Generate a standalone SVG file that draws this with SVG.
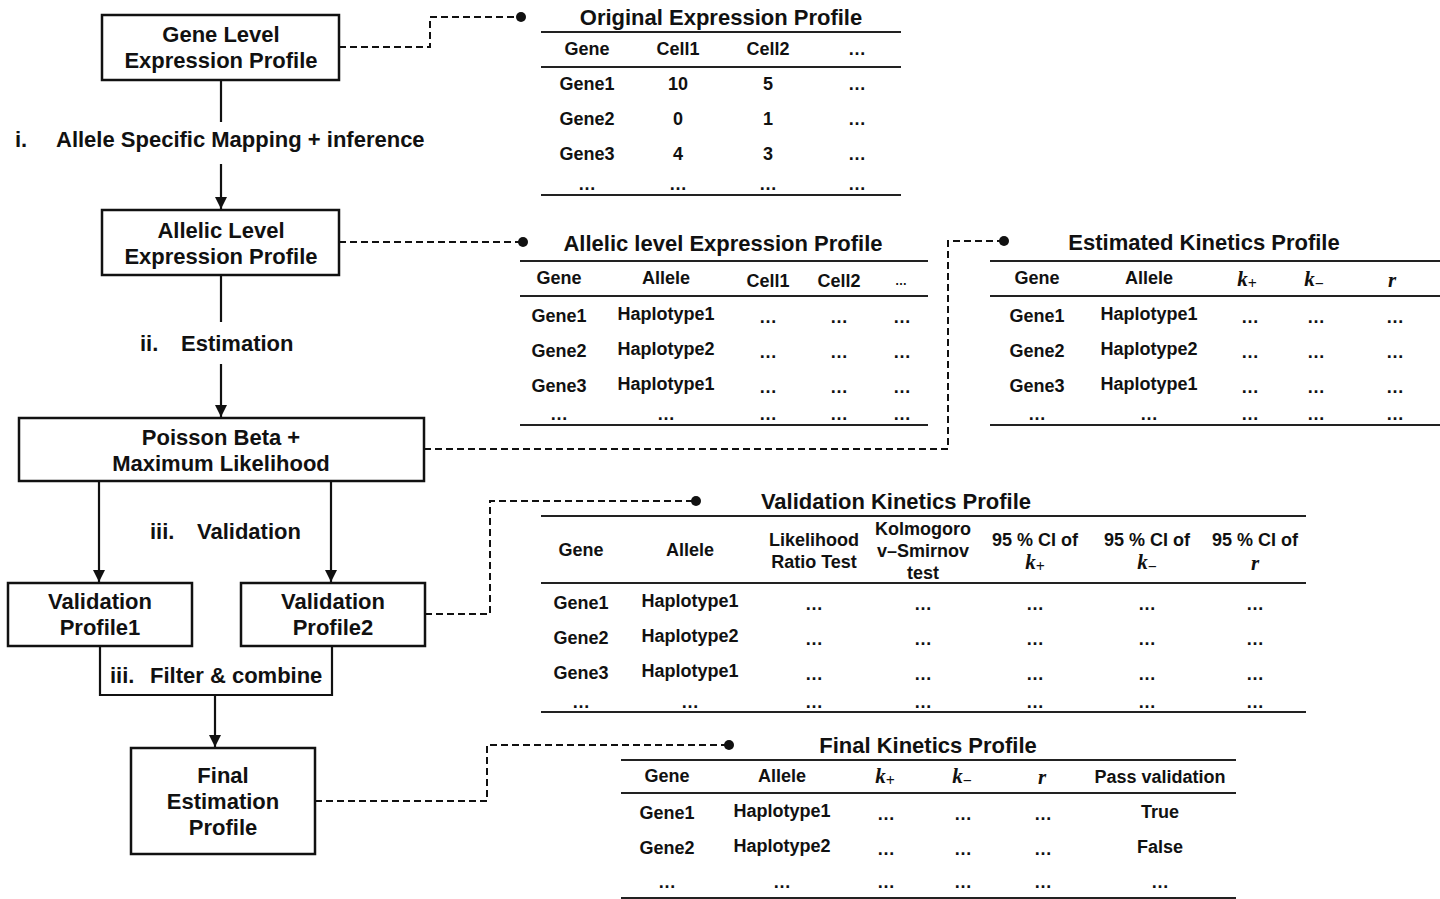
<svg xmlns="http://www.w3.org/2000/svg" width="1440" height="899" viewBox="0 0 1440 899">
<style>
.box{fill:#fff;stroke:#111;stroke-width:2.5}
.t{font-family:"Liberation Sans",Arial,sans-serif;font-weight:bold;fill:#111;text-anchor:middle;dominant-baseline:central}
.l{text-anchor:start}
.fl{font-size:22px}
.tt{font-size:22px}
.c{font-size:18px}
.m{font-family:"Liberation Serif","DejaVu Serif",serif;font-style:italic;font-weight:bold;font-size:21px}
.sb{font-size:16px;font-style:normal}
.rule{stroke:#222;stroke-width:2.2}
.dash{fill:none;stroke:#111;stroke-width:2;stroke-dasharray:7 4}
.arr{fill:none;stroke:#111;stroke-width:2.2}
</style>
<defs>
<marker id="dn" markerWidth="12" markerHeight="12" refX="6" refY="12" orient="0" markerUnits="userSpaceOnUse" viewBox="0 0 12 12">
<path d="M0,0 L12,0 L6,12 Z" fill="#111"/>
</marker>
</defs>
<rect width="1440" height="899" fill="#fff"/>

<g id="connectors">
<line class="arr" x1="221" y1="80" x2="221" y2="122"/>
<line class="arr" x1="221" y1="164" x2="221" y2="209" marker-end="url(#dn)"/>
<line class="arr" x1="221" y1="275" x2="221" y2="322"/>
<line class="arr" x1="221" y1="364" x2="221" y2="417" marker-end="url(#dn)"/>
<line class="arr" x1="99" y1="481" x2="99" y2="582" marker-end="url(#dn)"/>
<line class="arr" x1="331" y1="481" x2="331" y2="582" marker-end="url(#dn)"/>
<path class="arr" d="M100,646 V695 H332 V646"/>
<line class="arr" x1="215" y1="695" x2="215" y2="747" marker-end="url(#dn)"/>
<path class="dash" d="M339,47 H430 V17 H521"/>
<circle cx="521" cy="17" r="5" fill="#111"/>
<path class="dash" d="M339,242 H523"/>
<circle cx="523" cy="242" r="5" fill="#111"/>
<path class="dash" d="M424,449 H948 V241 H1004"/>
<circle cx="1004" cy="241" r="5" fill="#111"/>
<path class="dash" d="M425,614 H490 V501 H696"/>
<circle cx="696" cy="501" r="5" fill="#111"/>
<path class="dash" d="M315,801 H487 V745 H729"/>
<circle cx="729" cy="745" r="5" fill="#111"/>
</g>

<g id="labels">
<text class="t fl l" x="15" y="139">i.</text>
<text class="t fl l" x="56" y="139">Allele Specific Mapping + inference</text>
<text class="t fl l" x="140" y="343">ii.</text>
<text class="t fl l" x="181" y="343">Estimation</text>
<text class="t fl l" x="150" y="531">iii.</text>
<text class="t fl l" x="197" y="531">Validation</text>
<text class="t fl l" x="110" y="675">iii.</text>
<text class="t fl l" x="150" y="675">Filter &amp; combine</text>
</g>

<g id="gene-level">
<rect class="box" x="102" y="15" width="237" height="65"/>
<text class="t fl" x="221" y="34">Gene Level</text>
<text class="t fl" x="221" y="60">Expression Profile</text>
</g>
<g id="allelic-level">
<rect class="box" x="102" y="210" width="237" height="65"/>
<text class="t fl" x="221" y="230">Allelic Level</text>
<text class="t fl" x="221" y="256">Expression Profile</text>
</g>
<g id="poisson-beta">
<rect class="box" x="19" y="418" width="405" height="63"/>
<text class="t fl" x="221" y="437">Poisson Beta +</text>
<text class="t fl" x="221" y="463">Maximum Likelihood</text>
</g>
<g id="validation1">
<rect class="box" x="8" y="583" width="184" height="63"/>
<text class="t fl" x="100" y="601">Validation</text>
<text class="t fl" x="100" y="627">Profile1</text>
</g>
<g id="validation2">
<rect class="box" x="241" y="583" width="184" height="63"/>
<text class="t fl" x="333" y="601">Validation</text>
<text class="t fl" x="333" y="627">Profile2</text>
</g>
<g id="final-estimation">
<rect class="box" x="131" y="748" width="184" height="106"/>
<text class="t fl" x="223" y="775">Final</text>
<text class="t fl" x="223" y="801">Estimation</text>
<text class="t fl" x="223" y="827">Profile</text>
</g>

<g id="table-original">
<text class="t tt" x="721" y="17">Original Expression Profile</text>
<line class="rule" x1="541" y1="32" x2="901" y2="32"/>
<line class="rule" x1="541" y1="67" x2="901" y2="67"/>
<line class="rule" x1="541" y1="195" x2="901" y2="195"/>
<g class="t c">
<text x="587" y="49">Gene</text><text x="678" y="49">Cell1</text><text x="768" y="49">Cell2</text><text x="857" y="49">…</text>
<text x="587" y="84">Gene1</text><text x="678" y="84">10</text><text x="768" y="84">5</text><text x="857" y="84">…</text>
<text x="587" y="119">Gene2</text><text x="678" y="119">0</text><text x="768" y="119">1</text><text x="857" y="119">…</text>
<text x="587" y="154">Gene3</text><text x="678" y="154">4</text><text x="768" y="154">3</text><text x="857" y="154">…</text>
<text x="587" y="184">…</text><text x="678" y="184">…</text><text x="768" y="184">…</text><text x="857" y="184">…</text>
</g>
</g>

<g id="table-allelic">
<text class="t tt" x="723" y="243">Allelic level Expression Profile</text>
<line class="rule" x1="520" y1="261" x2="928" y2="261"/>
<line class="rule" x1="520" y1="296" x2="928" y2="296"/>
<line class="rule" x1="520" y1="425" x2="928" y2="425"/>
<g class="t c">
<text x="559" y="278">Gene</text><text x="666" y="278">Allele</text><text x="768" y="281">Cell1</text><text x="839" y="281">Cell2</text><text x="901" y="281" font-size="12">…</text>
<text x="559" y="316">Gene1</text><text x="666" y="314">Haplotype1</text><text x="768" y="317">…</text><text x="839" y="317">…</text><text x="902" y="317">…</text>
<text x="559" y="351">Gene2</text><text x="666" y="349">Haplotype2</text><text x="768" y="352">…</text><text x="839" y="352">…</text><text x="902" y="352">…</text>
<text x="559" y="386">Gene3</text><text x="666" y="384">Haplotype1</text><text x="768" y="387">…</text><text x="839" y="387">…</text><text x="902" y="387">…</text>
<text x="559" y="414">…</text><text x="666" y="414">…</text><text x="768" y="414">…</text><text x="839" y="414">…</text><text x="902" y="414">…</text>
</g>
</g>

<g id="table-estimated">
<text class="t tt" x="1204" y="242">Estimated Kinetics Profile</text>
<line class="rule" x1="990" y1="261" x2="1440" y2="261"/>
<line class="rule" x1="990" y1="296" x2="1440" y2="296"/>
<line class="rule" x1="990" y1="425" x2="1440" y2="425"/>
<g class="t c">
<text x="1037" y="278">Gene</text><text x="1149" y="278">Allele</text>
<text x="1037" y="316">Gene1</text><text x="1149" y="314">Haplotype1</text><text x="1250" y="317">…</text><text x="1316" y="317">…</text><text x="1395" y="317">…</text>
<text x="1037" y="351">Gene2</text><text x="1149" y="349">Haplotype2</text><text x="1250" y="352">…</text><text x="1316" y="352">…</text><text x="1395" y="352">…</text>
<text x="1037" y="386">Gene3</text><text x="1149" y="384">Haplotype1</text><text x="1250" y="387">…</text><text x="1316" y="387">…</text><text x="1395" y="387">…</text>
<text x="1037" y="414">…</text><text x="1149" y="414">…</text><text x="1250" y="414">…</text><text x="1316" y="414">…</text><text x="1395" y="414">…</text>
</g>
<text class="t m" x="1247" y="279">k<tspan class="sb" dy="4">+</tspan></text>
<text class="t m" x="1314" y="279">k<tspan class="sb" dy="4">−</tspan></text>
<text class="t m" x="1392" y="280">r</text>
</g>

<g id="table-validation">
<text class="t tt" x="896" y="501">Validation Kinetics Profile</text>
<line class="rule" x1="541" y1="516" x2="1306" y2="516"/>
<line class="rule" x1="541" y1="583" x2="1306" y2="583"/>
<line class="rule" x1="541" y1="712" x2="1306" y2="712"/>
<g class="t c">
<text x="581" y="550">Gene</text><text x="690" y="550">Allele</text>
<text x="814" y="540">Likelihood</text><text x="814" y="562">Ratio Test</text>
<text x="923" y="529">Kolmogoro</text><text x="923" y="551">v–Smirnov</text><text x="923" y="573">test</text>
<text x="1035" y="540">95 % CI of</text><text x="1147" y="540">95 % CI of</text><text x="1255" y="540">95 % CI of</text>
<text x="581" y="603">Gene1</text><text x="690" y="601">Haplotype1</text><text x="814" y="604">…</text><text x="923" y="604">…</text><text x="1035" y="604">…</text><text x="1147" y="604">…</text><text x="1255" y="604">…</text>
<text x="581" y="638">Gene2</text><text x="690" y="636">Haplotype2</text><text x="814" y="639">…</text><text x="923" y="639">…</text><text x="1035" y="639">…</text><text x="1147" y="639">…</text><text x="1255" y="639">…</text>
<text x="581" y="673">Gene3</text><text x="690" y="671">Haplotype1</text><text x="814" y="674">…</text><text x="923" y="674">…</text><text x="1035" y="674">…</text><text x="1147" y="674">…</text><text x="1255" y="674">…</text>
<text x="581" y="702">…</text><text x="690" y="702">…</text><text x="814" y="702">…</text><text x="923" y="702">…</text><text x="1035" y="702">…</text><text x="1147" y="702">…</text><text x="1255" y="702">…</text>
</g>
<text class="t m" x="1035" y="562">k<tspan class="sb" dy="4">+</tspan></text>
<text class="t m" x="1147" y="562">k<tspan class="sb" dy="4">−</tspan></text>
<text class="t m" x="1255" y="563">r</text>
</g>

<g id="table-final">
<text class="t tt" x="928" y="745">Final Kinetics Profile</text>
<line class="rule" x1="621" y1="760" x2="1236" y2="760"/>
<line class="rule" x1="621" y1="793" x2="1236" y2="793"/>
<line class="rule" x1="621" y1="898" x2="1236" y2="898"/>
<g class="t c">
<text x="667" y="776">Gene</text><text x="782" y="776">Allele</text><text x="1160" y="777">Pass validation</text>
<text x="667" y="813">Gene1</text><text x="782" y="811">Haplotype1</text><text x="886" y="814">…</text><text x="963" y="814">…</text><text x="1043" y="814">…</text><text x="1160" y="812">True</text>
<text x="667" y="848">Gene2</text><text x="782" y="846">Haplotype2</text><text x="886" y="849">…</text><text x="963" y="849">…</text><text x="1043" y="849">…</text><text x="1160" y="847">False</text>
<text x="667" y="882">…</text><text x="782" y="882">…</text><text x="886" y="882">…</text><text x="963" y="882">…</text><text x="1043" y="882">…</text><text x="1160" y="882">…</text>
</g>
<text class="t m" x="885" y="776">k<tspan class="sb" dy="4">+</tspan></text>
<text class="t m" x="962" y="776">k<tspan class="sb" dy="4">−</tspan></text>
<text class="t m" x="1042" y="777">r</text>
</g>
</svg>
